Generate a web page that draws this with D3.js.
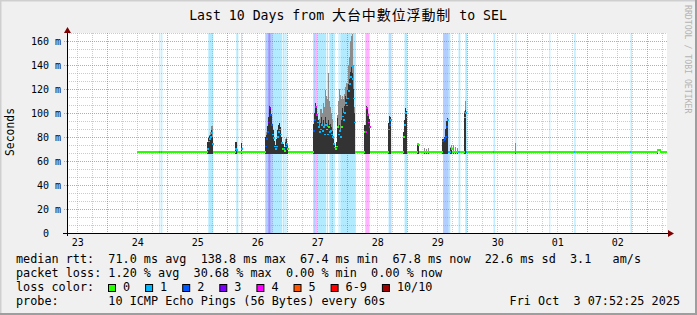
<!DOCTYPE html>
<html><head><meta charset="utf-8">
<script src="https://cdn.jsdelivr.net/npm/d3@7"></script>
<style>
html,body{margin:0;padding:0;background:#f0f0f0;}
svg text{font-family:"DejaVu Sans Mono",monospace;white-space:pre;}
</style></head><body><svg id="c" width="697" height="315"></svg>
<script>
// ---------------- data ----------------
const endTime = Date.UTC(2025, 9, 3, 7, 52, 25);
const epoch = Date.UTC(2025, 8, 23, 0, 0, 0);      // hours below count from here
const spanHours = 240;
const yTicks = [0, 20, 40, 60, 80, 100, 120, 140, 160];
const yMinorStep = 20 / 3;
const yTop = 500 / 3;
const lossLabels = ["0", "1", "2", "3", "4", "5", "6-9", "10/10"];
const lossColors = ["#26ff00", "#00b8ff", "#0059ff", "#7e00ff", "#ff00ff", "#ff5500", "#ff0000", "#a10000"];

// loss background bands: start hour, end hour, loss level
const bandStart = [44.8, 45.6, 64.4, 75.6, 77.5, 87.2, 88.4, 90.2, 94.3, 95.2, 106.4, 107.2, 108.0, 111.9, 112.8, 114.6, 116.5, 117.2, 127.2, 136.5, 136.9, 137.3, 142.9, 158.3, 160.5, 164.5, 167.2, 178.5, 187.2, 200.8, 210.8, 233.3];
const bandEnd   = [45.2, 46.0, 66.4, 76.4, 77.9, 90.2, 89.2, 94.0, 94.9, 95.7, 107.2, 108.0, 111.6, 112.3, 114.5, 115.0, 116.9, 123.4, 128.9, 136.9, 137.3, 137.6, 143.9, 160.5, 161.2, 165.2, 167.9, 179.0, 187.6, 201.2, 211.3, 233.8];
const bandLoss  = [1, 1, 1, 1, 1, 2, 3, 1, 1, 1, 2, 4, 1, 1, 1, 1, 1, 1, 4, 1, 2, 1, 1, 2, 1, 1, 1, 1, 1, 1, 1, 1];

// median baseline: from hour, median ms
const baseFrom  = [36.0, 173.2, 176.4, 244.0, 245.2];
const baseValue = [67.7, 67.3, 67.7, 69.4, 67.5];

// smoke columns (one RRD step each): hour, dense top, outer top, median, loss
const smokeHour = [64.0,64.4,64.8,65.2,65.6,66.0, 75.2,75.6,77.6,
  87.2,87.6,88.0,88.4,88.8,89.2,89.6,90.0,90.4,90.8,91.2,91.6,92.0,92.4,92.8,93.2,93.6,94.0,94.4,94.8,95.2,95.6,96.0,
  106.4,106.8,107.2,107.6,108.0,108.4,108.8,109.2,109.6,110.0,110.4,110.8,111.2,111.6,112.0,112.4,112.8,113.2,113.6,114.0,114.4,114.8,115.2,115.6,116.0,116.4,116.8,117.2,117.6,118.0,118.4,118.8,119.2,119.6,120.0,120.4,120.8,121.2,121.6,122.0,122.4,122.8,
  126.8,127.2,127.6,128.0,128.4,128.8, 136.4,136.8,137.2, 142.4,142.8,143.2,143.6, 148.0,148.4, 150.8,151.6,152.4,
  158.0,158.4,158.8,159.2,159.6,160.0, 161.2,161.6,162.4,163.2,164.0, 166.8,167.2, 187.2, 244.0];
const smokeDark = [76,79,81,82,86,80, 76,76,75,
  80,82,89,97,106,104,98,90,86,77,73,78,86,90,92,88,80,76,74,72,76,78,73,
  91,100,108,104,99,94,88,92,97,90,94,88,97,92,88,94,90,91,88,85,78,74,72,76,96,88,90,86,94,104,100,106,114,112,119,124,128,134,139,133,120,100,
  90,90,106,104,99,95, 92,97.5,97, 84,94,104,102, 75,75, 68,68,68,
  78,78,80,87,93,96, 72,71,68,68,68, 100,102.5, 68, 70];
const smokeLight = [76,80,82,84,89,89, 76,76,75,
  80,84,89,97,107,104,98,90,86,77,73,78,86,90,92,88,80,76,74,72,78,80,73,
  91,100,108,104,99,94,95,103,103,100,108,105,119,114,112,133,110,105,100,95,80,74,72,76,98,110,120,115,112,114,112,116,122,125,124,140,147,160,164,166,140,105,
  90,90,106,104,99,95, 92,97.5,97, 84,94,104,102, 75,75, 70.5,70,70.5,
  78,78,80,87,93,96, 72,73,73,72,71, 102,110, 75, 70];
const smokeMedian = [70,76,78,80,83,74, 70,69,70,
  72,78,84,92,104,98,90,82,79,72,70,72,80,84,86,82,75,70,70,68,72,74,70,
  85,94,105,98,92,88,84,86,90,85,88,82,90,86,82,88,84,85,82,80,74,71,70,72,88,82,85,80,88,97,94,100,108,106,112,118,124,130,138.8,128,112,92,
  84,84,104,98,92,88, 86,90,94, 80,90,100,96, 74,73, 67.7,67.7,67.7,
  76,77,78,80,88,94, 71,70,67.7,67.7,67.7, 96,100, 67.7, 69.4];
const smokeLoss = [1,1,1,1,1,1, 1,1,1,
  2,2,2,3,3,2,2,1,1,1,1,1,1,1,1,1,1,0,1,0,1,1,0,
  2,2,4,4,1,1,1,1,1,1,1,1,1,0,1,0,1,1,1,1,1,1,0,0,0,1,1,1,0,1,1,1,1,1,1,1,1,1,1,1,1,1,
  0,4,4,4,4,4, 1,2,1, 0,1,1,1, 0,0, 0,0,0,
  2,2,2,2,2,1, 0,0,0,0,0, 0,1, 1, 0];

// ---------------- layout ----------------
const W = 697, H = 315;
const L = 67, R = 667, T = 33, B = 233;
const svg = d3.select("#c");
const hd = h => new Date(epoch + h * 3600e3);
const x = d3.scaleUtc().domain([new Date(endTime - spanHours * 3600e3), new Date(endTime)]).range([L, R]);
const y = d3.scaleLinear().domain([0, yTop]).range([B, T]);

// background + frame
svg.append("rect").attr("width", W).attr("height", H).attr("fill", "#f0f0f0");
svg.append("path").attr("d", `M0.5,${H}V0.5H${W}`).attr("stroke", "#cfcfcf").attr("stroke-width", 2).attr("fill", "none");
svg.append("path").attr("d", `M0,${H-1}H${W-1}V0`).attr("stroke", "#9e9e9e").attr("stroke-width", 2).attr("fill", "none");
svg.append("rect").attr("x", L).attr("y", T).attr("width", R - L).attr("height", B - T).attr("fill", "#fff");

// loss bands
const gB = svg.append("g");
bandStart.forEach((s, i) => {
  const x0 = x(hd(s)), x1 = x(hd(bandEnd[i]));
  gB.append("rect").attr("x", x0).attr("y", T).attr("width", Math.max(1, x1 - x0)).attr("height", B - T)
    .attr("fill", lossColors[bandLoss[i]]).attr("fill-opacity", 0.3);
});

// grid
const start = x.domain()[0], end = x.domain()[1];
const gG = svg.append("g").attr("shape-rendering", "crispEdges");
const minorY = d3.range(0, yTop + 0.01, yMinorStep).filter(v => Math.abs(v / 20 - Math.round(v / 20)) > 0.01);
minorY.forEach(v => gG.append("line").attr("x1", L).attr("x2", R).attr("y1", Math.round(y(v)) + 0.5).attr("y2", Math.round(y(v)) + 0.5)
  .attr("stroke", "#8f8f8f").attr("stroke-opacity", 0.46).attr("stroke-dasharray", "1,1"));
const hours6 = d3.utcHour.every(6).range(start, end).filter(d => d.getUTCHours() !== 0);
hours6.forEach(d => gG.append("line").attr("x1", Math.round(x(d)) + 0.5).attr("x2", Math.round(x(d)) + 0.5).attr("y1", T).attr("y2", B)
  .attr("stroke", "#8f8f8f").attr("stroke-opacity", 0.46).attr("stroke-dasharray", "1,1"));
yTicks.filter(v => v > 0).forEach(v => gG.append("line").attr("x1", L - 3).attr("x2", R).attr("y1", Math.round(y(v)) + 0.5).attr("y2", Math.round(y(v)) + 0.5)
  .attr("stroke", "#de5050").attr("stroke-opacity", 0.6).attr("stroke-dasharray", "1,1"));
const days = d3.utcDay.range(start, end);
days.forEach(d => gG.append("line").attr("x1", Math.round(x(d)) + 0.5).attr("x2", Math.round(x(d)) + 0.5).attr("y1", T).attr("y2", B + 2)
  .attr("stroke", "#de5050").attr("stroke-opacity", 0.6).attr("stroke-dasharray", "1,1"));

// smoke
const gS = svg.append("g").attr("shape-rendering", "crispEdges");
const smokeBase = 66;
smokeHour.forEach((h, i) => {
  const x0 = x(hd(h)), x1 = x(hd(h + 0.4));
  gS.append("rect").attr("x", x0).attr("width", x1 - x0).attr("y", y(smokeLight[i])).attr("height", y(smokeDark[i]) - y(smokeLight[i]))
    .attr("fill", "#8c8c8c");
  gS.append("rect").attr("x", x0).attr("width", x1 - x0).attr("y", y(smokeDark[i])).attr("height", Math.max(0, y(smokeBase) - y(smokeDark[i])))
    .attr("fill", "#333333");
});

// median, coloured by loss
const smokeIdx = new Map(smokeHour.map((h, i) => [Math.round(h * 10), i]));
const bandAt = h => { let l = 0; bandStart.forEach((s, i) => { if (h + 0.2 >= s && h + 0.2 < bandEnd[i]) l = bandLoss[i]; }); return l; };
const baseAt = h => { let v = baseValue[0]; baseFrom.forEach((f, i) => { if (h >= f - 1e-6) v = baseValue[i]; }); return v; };
const endH = (endTime - epoch) / 3600e3;
const gM = svg.append("g").attr("shape-rendering", "crispEdges");
for (let h = baseFrom[0]; h < endH - 1e-6; h += 0.4) {
  const k = Math.round(h * 10);
  let m, l, inSmoke = smokeIdx.has(k);
  if (inSmoke) { const i = smokeIdx.get(k); m = smokeMedian[i]; l = smokeLoss[i]; }
  else { m = baseAt(h); l = bandAt(h); }
  const x0 = x(hd(h)), x1 = Math.min(R, x(hd(h + 0.4)));
  gM.append("rect").attr("x", x0).attr("width", x1 - x0 + 0.3).attr("y", y(m) - 1).attr("height", inSmoke && m > 70 ? 1.5 : 2)
    .attr("fill", lossColors[l]);
}

// axes
const gA = svg.append("g");
gA.append("line").attr("x1", L - 4).attr("x2", R + 1).attr("y1", B + 0.5).attr("y2", B + 0.5).attr("stroke", "#000");
gA.append("line").attr("x1", L + 0.5).attr("x2", L + 0.5).attr("y1", B + 3).attr("y2", T - 1).attr("stroke", "#000");
gA.append("path").attr("d", `M${R + 1},${B - 3}L${R + 7},${B + 0.5}L${R + 1},${B + 4}Z`).attr("fill", "#7f0000");
gA.append("path").attr("d", `M${L - 3},${T}L${L + 0.5},${T - 6}L${L + 4},${T}Z`).attr("fill", "#7f0000");

// x tick labels at noon
const noons = d3.utcDay.range(d3.utcDay.floor(start), end).map(d => d3.utcHour.offset(d, 12)).filter(d => d >= start && d <= end);
const xAxis = d3.axisBottom(x).tickValues(noons).tickFormat(d3.utcFormat("%d")).tickSize(0).tickPadding(0);
const gx = svg.append("g").attr("transform", `translate(0,${B + 4})`).call(xAxis);
gx.select(".domain").remove();
gx.selectAll("text").attr("font-size", 10).attr("font-family", "DejaVu Sans Mono").attr("fill", "#000").attr("dy", "0.9em");

// y tick labels
const yAxis = d3.axisLeft(y).tickValues(yTicks).tickFormat(v => v === 0 ? "0  " : v + " m").tickSize(0).tickPadding(0);
const gy = svg.append("g").attr("transform", `translate(${L - 6},0)`).call(yAxis);
gy.select(".domain").remove();
gy.selectAll("text").attr("font-size", 10).attr("font-family", "DejaVu Sans Mono").attr("fill", "#000");

// title
const title = svg.append("text").attr("x", 348).attr("y", 20).attr("text-anchor", "middle").attr("font-size", 13.2);
title.append("tspan").text("Last 10 Days from ");
title.append("tspan").attr("font-family", "Noto Sans CJK TC").attr("font-size", 14).attr("letter-spacing", 0.9).text("大台中數位浮動制");
title.append("tspan").text(" to SEL");

// unit label
svg.append("text").attr("transform", "translate(14,132) rotate(-90)").attr("text-anchor", "middle")
  .attr("font-size", 11.4).text("Seconds");

// watermark
svg.append("text").attr("transform", "translate(685,5) rotate(90)").attr("font-size", 8.2).attr("fill", "#b4b4b4")
  .text("RRDTOOL / TOBI OETIKER");

// legend
const lf = 11.8, lx = 16;
const leg = (t, yy) => svg.append("text").attr("x", lx).attr("y", yy).attr("font-size", lf).text(t);
leg("median rtt:  71.0 ms avg  138.8 ms max  67.4 ms min  67.8 ms now  22.6 ms sd  3.1   am/s", 262.5);
leg("packet loss: 1.20 % avg  30.68 % max  0.00 % min  0.00 % now", 276.5);
leg("loss color:", 290.5);
leg("probe:       10 ICMP Echo Pings (56 Bytes) every 60s", 304.5);
svg.append("text").attr("x", 680).attr("y", 304.5).attr("text-anchor", "end").attr("font-size", lf).text("Fri Oct  3 07:52:25 2025");
let cx = 108.5;
lossLabels.forEach((lab, i) => {
  svg.append("rect").attr("x", cx).attr("y", 284.5).attr("width", 7).attr("height", 7)
    .attr("fill", lossColors[i]).attr("stroke", "#000").attr("stroke-width", 1);
  svg.append("text").attr("x", cx + 14.5).attr("y", 290.5).attr("font-size", lf).text(lab);
  cx += 14.5 + lab.length * 7.1 + 15.5;
});
</script></body></html>
